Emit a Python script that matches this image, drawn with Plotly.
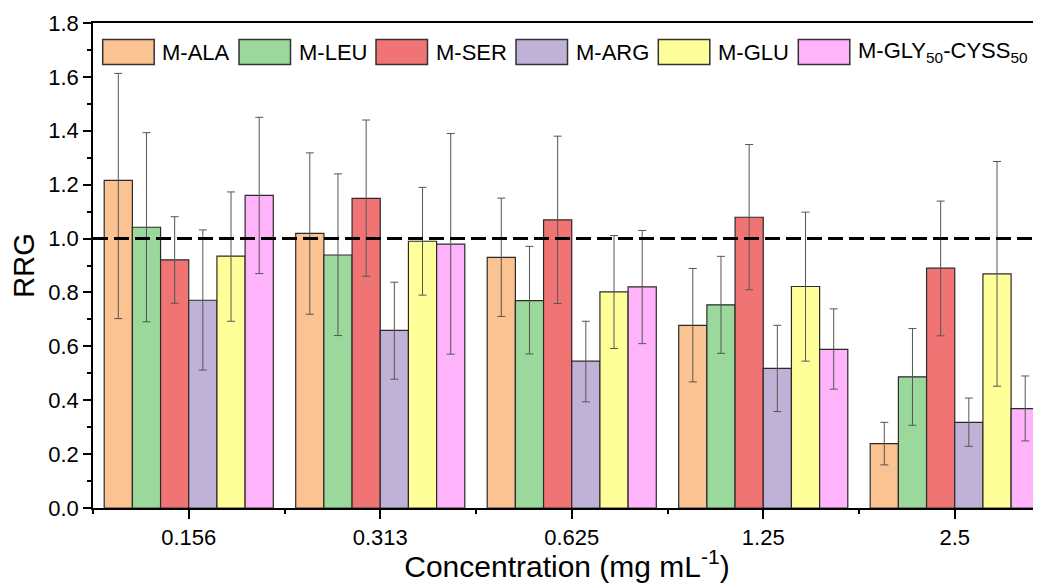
import plotly.graph_objects as go

categories = ["0.156", "0.313", "0.625", "1.25", "2.5"]

series_names = ["M-ALA", "M-LEU", "M-SER", "M-ARG", "M-GLU", "M-GLY<sub>50</sub>-CYSS<sub>50</sub>"]

ala = [1.216, 1.019, 0.930, 0.678, 0.239]
ala_up = [0.397, 0.299, 0.220, 0.211, 0.079]
ala_dn = [0.513, 0.300, 0.219, 0.210, 0.079]

leu = [1.042, 0.939, 0.770, 0.754, 0.487]
leu_up = [0.351, 0.301, 0.201, 0.180, 0.179]
leu_dn = [0.351, 0.299, 0.198, 0.180, 0.180]

ser = [0.921, 1.149, 1.069, 1.079, 0.890]
ser_up = [0.160, 0.291, 0.311, 0.270, 0.249]
ser_dn = [0.161, 0.289, 0.310, 0.269, 0.251]

arg = [0.771, 0.659, 0.545, 0.518, 0.318]
arg_up = [0.261, 0.179, 0.148, 0.160, 0.090]
arg_dn = [0.259, 0.181, 0.151, 0.160, 0.089]

glu = [0.935, 0.990, 0.802, 0.822, 0.869]
glu_up = [0.238, 0.200, 0.209, 0.276, 0.417]
glu_dn = [0.242, 0.200, 0.210, 0.277, 0.417]

gly = [1.160, 0.979, 0.821, 0.589, 0.369]
gly_up = [0.290, 0.411, 0.209, 0.150, 0.121]
gly_dn = [0.290, 0.408, 0.211, 0.148, 0.120]

reference_level = 1.0

colors = ["#FAC391", "#9BD89B", "#F07474", "#C0B2D6", "#FFFF99", "#FFB3FA"]

values = [ala, leu, ser, arg, glu, gly]
ups = [ala_up, leu_up, ser_up, arg_up, glu_up, gly_up]
dns = [ala_dn, leu_dn, ser_dn, arg_dn, glu_dn, gly_dn]

FONT = "Arial, Liberation Sans, sans-serif"
OFF = 8  # default page margin of the html body
W, H = 1041 - OFF, 583 - OFF
ML, MR, MT, MB = 93 - OFF, 0, 23 - OFF, 75
PW = W - ML - MR
PH = H - MT - MB

xpos = list(range(len(categories)))

fig = go.Figure()
for name, vals, up, dn, col in zip(series_names, values, ups, dns, colors):
    fig.add_trace(go.Bar(
        x=xpos, y=vals, name=name, showlegend=False,
        marker=dict(color=col, line=dict(color="#2a2a2a", width=1.2)),
        error_y=dict(type="data", symmetric=False, array=up, arrayminus=dn,
                     color="#555555", thickness=1, width=4),
    ))

# reference line at RRG = 1
fig.add_shape(type="line", xref="paper", yref="y", x0=0, x1=1,
              y0=reference_level, y1=reference_level,
              line=dict(color="black", width=3, dash="15px,6px"), layer="above")

# custom legend (large swatches as in the original), page pixel positions
legend_box_px = [102.7, 239.0, 376.0, 516.0, 658.3, 798.3]
box_w, box_top, box_bot = 51.5, 39.5, 64.5
for bx, name, col in zip(legend_box_px, series_names, colors):
    x0 = (bx - 93) / PW
    x1 = (bx + box_w - 93) / PW
    y0 = (508 - box_bot) / PH
    y1 = (508 - box_top) / PH
    fig.add_shape(type="rect", xref="paper", yref="paper", x0=x0, x1=x1, y0=y0, y1=y1,
                  fillcolor=col, line=dict(color="#333333", width=1.5), layer="above")
    fig.add_annotation(xref="paper", yref="paper", x=(bx + box_w + 6 - 93) / PW,
                       y=(y0 + y1) / 2, text=name, showarrow=False,
                       xanchor="left", yanchor="middle",
                       font=dict(family=FONT, size=22, color="black"))

fig.update_layout(
    width=W, height=H,
    margin=dict(l=ML, r=MR, t=MT, b=MB, autoexpand=False),
    plot_bgcolor="white", paper_bgcolor="white",
    barmode="group", bargap=0.117, bargroupgap=0,
    font=dict(family=FONT, size=22, color="black"),
    showlegend=False,
)

fig.update_xaxes(
    range=[-0.5, -0.5 + PW / 191.5],
    tickvals=xpos, ticktext=categories,
    ticks="outside", ticklen=9, tickwidth=1.5, tickcolor="black",
    minor=dict(tick0=0.5, dtick=1, ticks="outside", ticklen=4, tickwidth=1.5, tickcolor="black"),
    showline=True, linecolor="black", linewidth=1.5, mirror=True,
    showgrid=False, zeroline=False,
    tickfont=dict(family=FONT, size=22, color="black"),
    title=dict(text="Concentration (mg mL<sup>-1</sup>)", font=dict(family=FONT, size=30, color="black"),
               standoff=0),
)

fig.update_yaxes(
    range=[0, 1.8], dtick=0.2, tickformat=".1f",
    ticks="outside", ticklen=8, tickwidth=1.5, tickcolor="black",
    minor=dict(dtick=0.1, ticks="outside", ticklen=4, tickwidth=1.5, tickcolor="black"),
    showline=True, linecolor="black", linewidth=1.5, mirror=False,
    showgrid=False, zeroline=False,
    tickfont=dict(family=FONT, size=22, color="black"),
    title=dict(text="RRG", font=dict(family=FONT, size=29, color="black"), standoff=12),
)

fig.write_html("out.html")
